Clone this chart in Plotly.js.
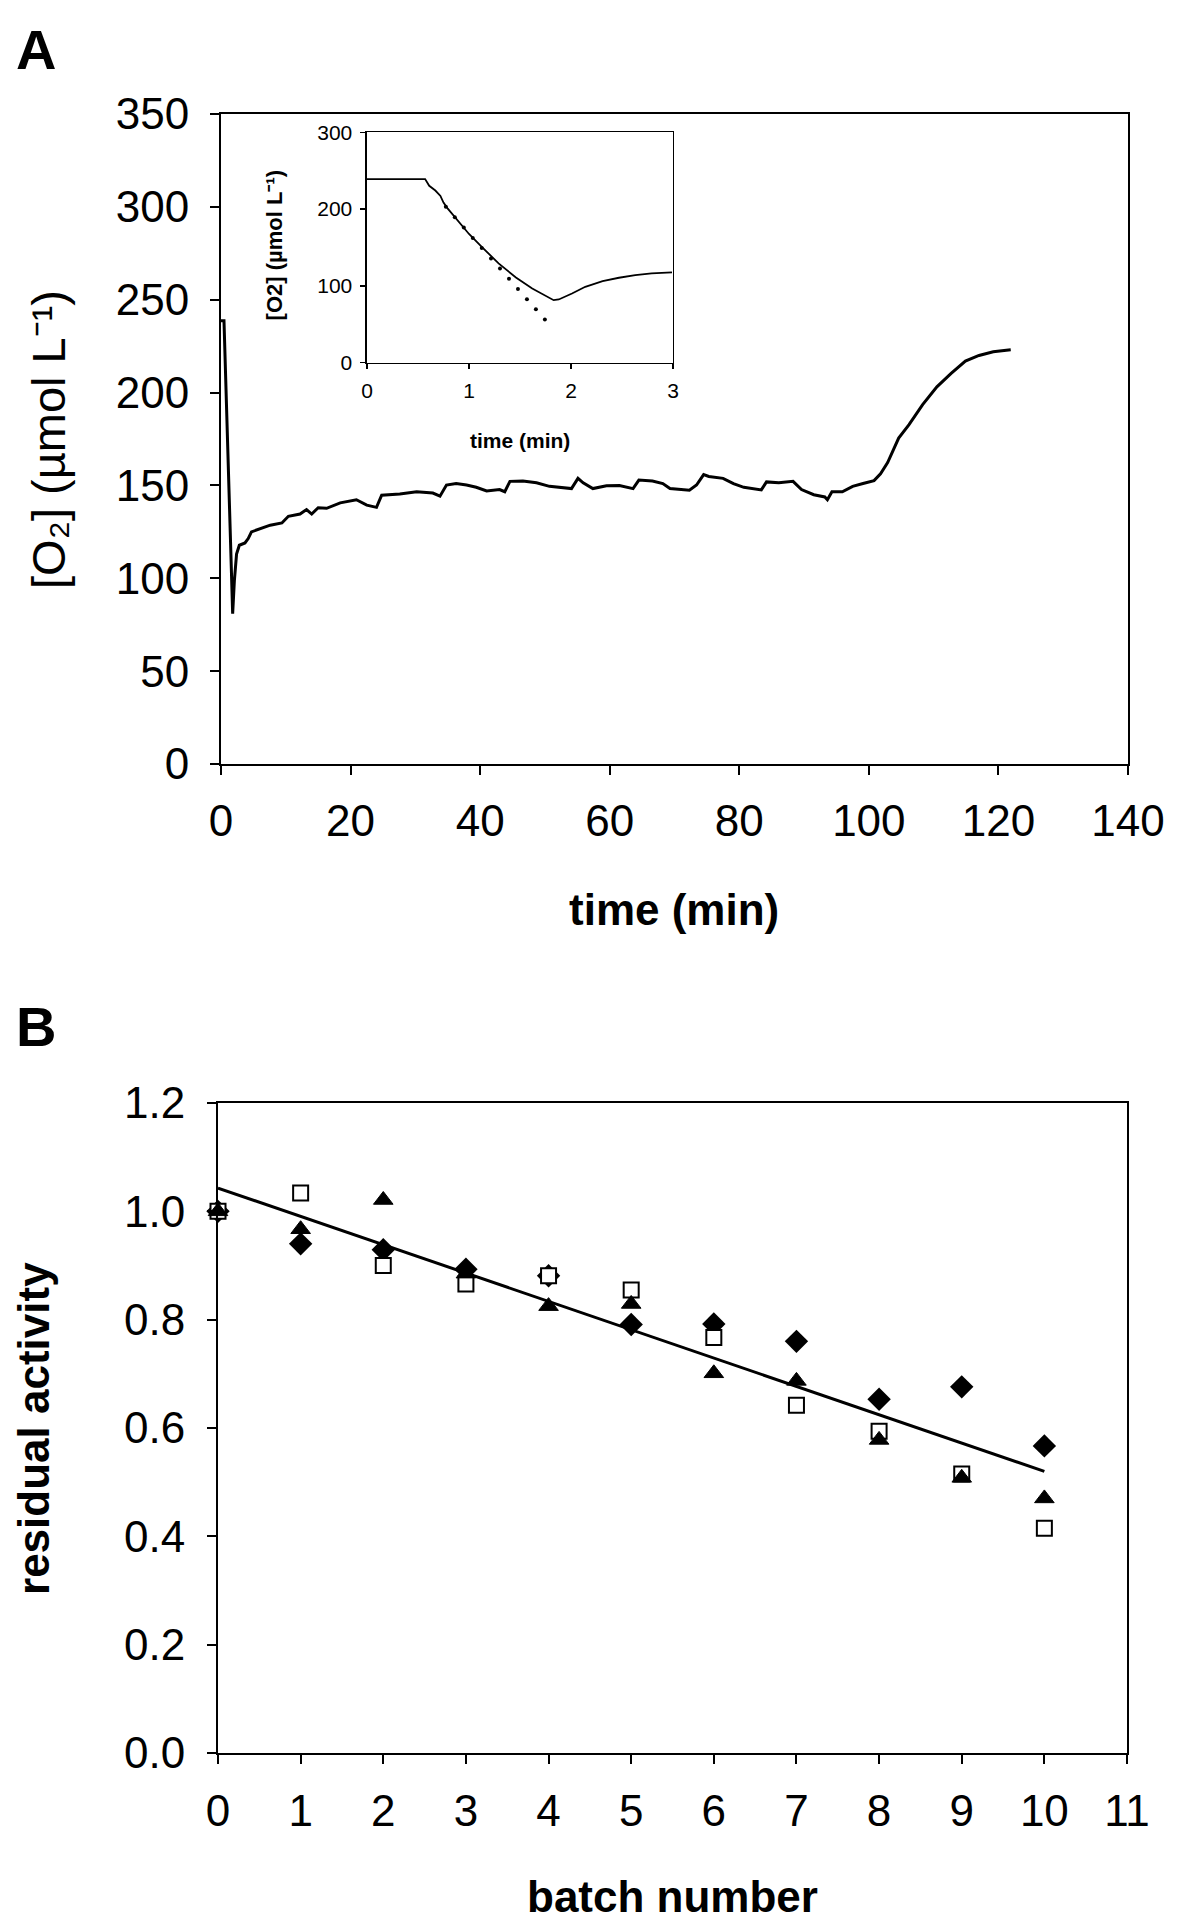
<!DOCTYPE html>
<html>
<head>
<meta charset="utf-8">
<script src="https://cdn.plot.ly/plotly-3.0.1.min.js"></script>
<style>html,body{margin:0;padding:0;background:#fff;}#chart{width:1200px;height:1928px;}</style>
</head>
<body>
<div id="chart"></div>
<script>
// Panel A main trace: time (min) and [O2] (µmol/L)
const timeA = [0, 0.46, 1.8, 2.06, 2.4, 2.83, 3.7, 4.2, 4.7, 5.5, 7.6, 9.4, 10.4, 12.2, 13.2, 14.0, 15.0, 16.3, 18.4, 20.9, 22.5, 24.0, 24.8, 27.6, 30.2, 32.7, 33.8, 34.8, 36.3, 37.9, 39.4, 41.0, 43.0, 43.8, 44.6, 46.6, 48.7, 50.7, 53.3, 54.1, 55.1, 55.9, 57.4, 59.5, 61.5, 63.6, 64.5, 66.6, 68.2, 69.3, 72.3, 73.4, 74.5, 75.3, 77.5, 79.1, 80.7, 83.4, 84.2, 86.1, 88.3, 89.6, 91.5, 93.2, 93.6, 94.3, 95.9, 97.5, 99.1, 100.8, 101.8, 102.9, 104.6, 106.2, 108.3, 110.5, 112.7, 114.9, 117.0, 119.2, 121.9];
const o2A = [238.7, 238.7, 81, 98.6, 113, 117.8, 119, 121.4, 125, 126, 128.6, 129.8, 133.4, 134.6, 137, 134.6, 138, 137.7, 140.6, 142.3, 139.4, 138.2, 144.7, 145.4, 146.6, 145.9, 144.2, 150.2, 151, 150.2, 149, 147, 147.8, 146.6, 152.2, 152.4, 151.4, 149.5, 148.6, 148.3, 153.8, 151.4, 148.3, 149.8, 150, 148.3, 152.9, 152.4, 151, 148.3, 147.4, 150.2, 155.8, 154.8, 153.8, 151, 149, 147.6, 151.9, 151.4, 152.2, 147.8, 145, 143.8, 142.3, 146.6, 146.6, 149.5, 151, 152.6, 156.3, 162.3, 175.5, 182.7, 193.5, 203.1, 210.3, 217, 220, 222, 223];

// Inset: first 3 minutes
const timeInset = [0, 0.57, 0.61, 0.67, 0.72, 0.75, 0.79, 0.87, 1.0, 1.13, 1.29, 1.46, 1.62, 1.83, 1.88, 2.01, 2.14, 2.31, 2.47, 2.63, 2.79, 2.99];
const o2Inset = [239, 239, 230.3, 224.2, 217.2, 208.5, 201, 188, 167.6, 150.2, 129.3, 111, 96.6, 81.4, 82.3, 90.1, 98.8, 106.2, 110.6, 114, 116.2, 117.5];
// Inset dotted extrapolation
const timeDots = [0.773, 0.861, 0.949, 1.037, 1.125, 1.216, 1.304, 1.392, 1.480, 1.568, 1.656, 1.744];
const o2Dots = [202.9, 189.4, 175.9, 162.4, 149.3, 135.8, 122.8, 109.3, 95.8, 82.7, 69.7, 56.2];

// Panel B: residual activity per batch
const batch = [0, 1, 2, 3, 4, 5, 6, 7, 8, 9, 10];
const actDiamond = [1.0, 0.940, 0.929, 0.893, 0.881, 0.791, 0.792, 0.760, 0.653, 0.676, 0.567];
const actSquare = [1.0, 1.034, 0.900, 0.866, 0.881, 0.855, 0.767, 0.642, 0.594, 0.515, 0.415];
const actTriangle = [1.0, 0.967, 1.021, 0.885, 0.825, 0.829, 0.701, 0.687, 0.578, 0.508, 0.470];
const fitBatch = [0, 10];
const fitAct = [1.043, 0.520];

const FONT = '"Liberation Sans", Arial, Helvetica, sans-serif';

const traces = [
  {x: timeA, y: o2A, type: 'scatter', mode: 'lines', xaxis: 'x', yaxis: 'y',
   line: {color: 'black', width: 3}},
  {x: timeInset, y: o2Inset, type: 'scatter', mode: 'lines', xaxis: 'x2', yaxis: 'y2',
   line: {color: 'black', width: 1.8}},
  {x: timeDots, y: o2Dots, type: 'scatter', mode: 'markers', xaxis: 'x2', yaxis: 'y2',
   marker: {color: 'black', size: 4, symbol: 'circle'}},
  {x: fitBatch, y: fitAct, type: 'scatter', mode: 'lines', xaxis: 'x3', yaxis: 'y3',
   line: {color: 'black', width: 3}},
  {x: batch, y: actDiamond, type: 'scatter', mode: 'markers', xaxis: 'x3', yaxis: 'y3', cliponaxis: false,
   marker: {symbol: 'diamond', size: 18, color: 'black'}},
  {x: batch, y: actSquare, type: 'scatter', mode: 'markers', xaxis: 'x3', yaxis: 'y3', cliponaxis: false,
   marker: {symbol: 'square', size: 15, color: 'white', line: {color: 'black', width: 2}}},
  {x: batch, y: actTriangle, type: 'scatter', mode: 'markers', xaxis: 'x3', yaxis: 'y3', cliponaxis: false,
   marker: {symbol: 'triangle-up', size: 17, color: 'black', line: {color: 'black', width: 1}}}
];

function ax(extra) {
  return Object.assign({
    showline: true, linecolor: 'black', linewidth: 2, mirror: true,
    ticks: 'outside', ticklen: 9, tickwidth: 2, tickcolor: 'black',
    showgrid: false, zeroline: false, fixedrange: true,
    tickfont: {family: FONT, size: 44, color: 'black'}
  }, extra);
}

const layout = {
  width: 1200, height: 1928,
  margin: {l: 0, r: 0, t: 0, b: 0},
  paper_bgcolor: 'white', plot_bgcolor: 'white',
  showlegend: false,
  font: {family: FONT, color: 'black'},
  xaxis: ax({domain: [0.18417, 0.94], range: [0, 140], tick0: 0, dtick: 20, anchor: 'y', ticklabelstandoff: 8}),
  yaxis: ax({domain: [0.60373, 0.94087], range: [0, 350], tick0: 0, dtick: 50, anchor: 'x', ticklabelstandoff: 12}),
  xaxis2: ax({domain: [0.30583, 0.56083], range: [0, 3], tick0: 0, dtick: 1, anchor: 'y2',
    linewidth: 1.5, tickwidth: 1.5, ticklen: 5, ticklabelstandoff: 4, tickfont: {family: FONT, size: 21, color: 'black'}}),
  yaxis2: ax({domain: [0.81188, 0.93138], range: [0, 300], tick0: 0, dtick: 100, anchor: 'x2',
    linewidth: 1.5, tickwidth: 1.5, ticklen: 5, ticklabelstandoff: 4, tickfont: {family: FONT, size: 21, color: 'black'}}),
  xaxis3: ax({domain: [0.18167, 0.93917], range: [0, 11], tick0: 0, dtick: 1, anchor: 'y3', ticklabelstandoff: 9}),
  yaxis3: ax({domain: [0.09077, 0.42790], range: [0, 1.2], tick0: 0, dtick: 0.2, tickformat: '.1f', anchor: 'x3', ticklabelstandoff: 13}),
  annotations: [
    {text: 'A', x: 0.03, y: 0.97407, xref: 'paper', yref: 'paper', showarrow: false, xanchor: 'center', yanchor: 'middle',
     font: {family: FONT, size: 56, weight: 'bold', color: 'black'}},
    {text: 'B', x: 0.03, y: 0.46784, xref: 'paper', yref: 'paper', showarrow: false, xanchor: 'center', yanchor: 'middle',
     font: {family: FONT, size: 56, weight: 'bold', color: 'black'}},
    {text: '[O₂] (µmol L⁻¹)', x: 0.04083, y: 0.77231, xref: 'paper', yref: 'paper', showarrow: false,
     textangle: -90, xanchor: 'center', yanchor: 'middle', font: {family: FONT, size: 47, color: 'black'}},
    {text: 'time (min)', x: 0.56167, y: 0.52852, xref: 'paper', yref: 'paper', showarrow: false,
     xanchor: 'center', yanchor: 'middle', font: {family: FONT, size: 44, weight: 'bold', color: 'black'}},
    {text: '[O2] (µmol L⁻¹)', x: 0.2295, y: 0.87293, xref: 'paper', yref: 'paper', showarrow: false,
     textangle: -90, xanchor: 'center', yanchor: 'middle', font: {family: FONT, size: 22, weight: 'bold', color: 'black'}},
    {text: 'time (min)', x: 0.43333, y: 0.77178, xref: 'paper', yref: 'paper', showarrow: false,
     xanchor: 'center', yanchor: 'middle', font: {family: FONT, size: 21, weight: 'bold', color: 'black'}},
    {text: 'residual activity', x: 0.02833, y: 0.25934, xref: 'paper', yref: 'paper', showarrow: false,
     textangle: -90, xanchor: 'center', yanchor: 'middle', font: {family: FONT, size: 44, weight: 'bold', color: 'black'}},
    {text: 'batch number', x: 0.56, y: 0.01608, xref: 'paper', yref: 'paper', showarrow: false,
     xanchor: 'center', yanchor: 'middle', font: {family: FONT, size: 44, weight: 'bold', color: 'black'}}
  ]
};

Plotly.newPlot('chart', traces, layout, {staticPlot: true, displayModeBar: false});
</script>
</body>
</html>
